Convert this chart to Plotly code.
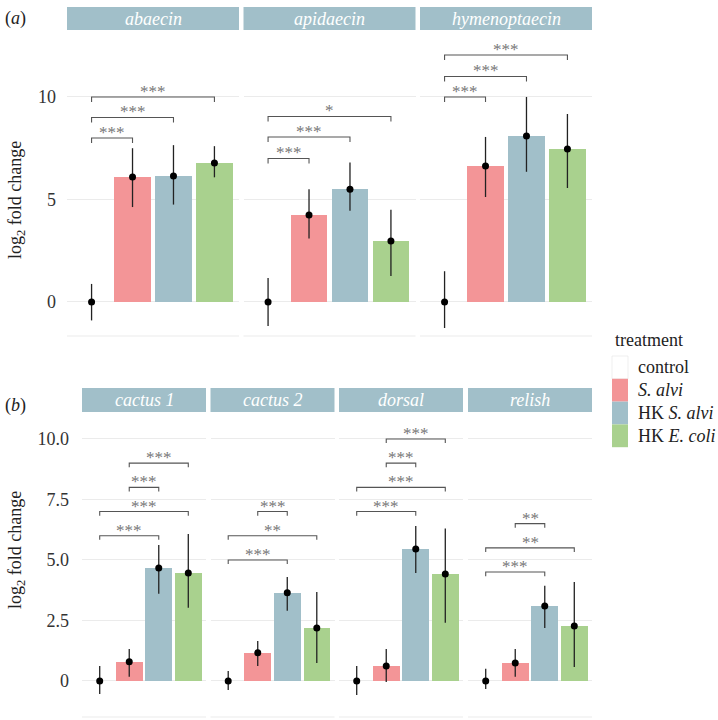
import plotly.graph_objects as go

W, H = 718, 720

# ---------------- data ----------------
treatments = ["control", "S. alvi", "HK S. alvi", "HK E. coli"]
treatment_labels = ["control", "<i>S. alvi</i>", "HK <i>S. alvi</i>", "HK <i>E. coli</i>"]
colors = ["#FFFFFF", "#F39597", "#A1BFC9", "#A9D18E"]
x_pos = [1, 2, 3, 4]

genes_a = ["abaecin", "apidaecin", "hymenoptaecin"]
genes_b = ["cactus 1", "cactus 2", "dorsal", "relish"]

mean_abaecin = [0, 6.10, 6.15, 6.78]
upper_abaecin = [0.88, 7.50, 7.65, 7.60]
lower_abaecin = [-0.90, 4.63, 4.75, 6.08]

mean_apidaecin = [0, 4.24, 5.50, 2.98]
upper_apidaecin = [1.17, 5.50, 6.80, 4.50]
lower_apidaecin = [-1.17, 3.10, 4.45, 1.27]

mean_hymenoptaecin = [0, 6.63, 8.10, 7.46]
upper_hymenoptaecin = [1.50, 8.05, 10.00, 9.17]
lower_hymenoptaecin = [-1.27, 5.12, 6.35, 5.56]

mean_cactus1 = [0, 0.79, 4.67, 4.46]
upper_cactus1 = [0.62, 1.32, 5.62, 6.07]
lower_cactus1 = [-0.54, 0.17, 3.60, 3.02]

mean_cactus2 = [0, 1.16, 3.64, 2.19]
upper_cactus2 = [0.41, 1.65, 4.30, 3.68]
lower_cactus2 = [-0.37, 0.62, 2.90, 0.74]

mean_dorsal = [0, 0.62, 5.45, 4.42]
upper_dorsal = [0.62, 1.32, 6.40, 6.30]
lower_dorsal = [-0.58, -0.04, 4.46, 2.40]

mean_relish = [0, 0.74, 3.10, 2.27]
upper_relish = [0.50, 1.32, 3.93, 4.09]
lower_relish = [-0.33, 0.17, 2.19, 0.58]

# significance brackets: (group from, group to, height, label)
sig_abaecin = [(1, 2, 8.0, "***"), (1, 3, 9.0, "***"), (1, 4, 10.0, "***")]
sig_apidaecin = [(1, 2, 7.0, "***"), (1, 3, 8.05, "***"), (1, 4, 9.05, "*")]
sig_hymenoptaecin = [(1, 2, 10.0, "***"), (1, 3, 11.0, "***"), (1, 4, 12.05, "***")]
sig_cactus1 = [(1, 3, 6.0, "***"), (1, 4, 7.0, "***"), (2, 3, 8.0, "***"), (2, 4, 9.0, "***")]
sig_cactus2 = [(1, 3, 5.0, "***"), (1, 4, 6.0, "**"), (2, 3, 7.0, "***")]
sig_dorsal = [(1, 3, 7.0, "***"), (1, 4, 8.0, "***"), (2, 3, 9.0, "***"), (2, 4, 10.0, "***")]
sig_relish = [(1, 3, 4.5, "***"), (1, 4, 5.5, "**"), (2, 3, 6.5, "**")]

ticks_a = [0, 5, 10]
ticklabels_a = ["0", "5", "10"]
ticks_b = [0, 2.5, 5, 7.5, 10]
ticklabels_b = ["0", "2.5", "5.0", "7.5", "10.0"]

# ---------------- layout geometry (pixels) ----------------
FONT = "Liberation Serif, Times New Roman, DejaVu Serif, serif"
row_a = dict(y0=33, y1=336, rng=[-1.66, 13.12], strip=(7, 30), ticks=ticks_a, ticklabels=ticklabels_a, tip=0.25, standoff=10)
row_b = dict(y0=415, y1=717, rng=[-1.49, 10.99], strip=(388, 412), ticks=ticks_b, ticklabels=ticklabels_b, tip=0.17, standoff=12)

panels = [
    ("abaecin", mean_abaecin, upper_abaecin, lower_abaecin, sig_abaecin, row_a, 67, 239, True),
    ("apidaecin", mean_apidaecin, upper_apidaecin, lower_apidaecin, sig_apidaecin, row_a, 243.5, 415.5, False),
    ("hymenoptaecin", mean_hymenoptaecin, upper_hymenoptaecin, lower_hymenoptaecin, sig_hymenoptaecin, row_a, 420, 592, False),
    ("cactus 1", mean_cactus1, upper_cactus1, lower_cactus1, sig_cactus1, row_b, 82, 206, True),
    ("cactus 2", mean_cactus2, upper_cactus2, lower_cactus2, sig_cactus2, row_b, 210.5, 334.5, False),
    ("dorsal", mean_dorsal, upper_dorsal, lower_dorsal, sig_dorsal, row_b, 339, 463, False),
    ("relish", mean_relish, upper_relish, lower_relish, sig_relish, row_b, 468, 592, False),
]

fig = go.Figure()
shapes = []
annotations = []
layout = {}

for i, (gene, mean, upper, lower, sigs, row, px0, px1, first) in enumerate(panels, start=1):
    xname = "x" if i == 1 else f"x{i}"
    yname = "y" if i == 1 else f"y{i}"
    xa = "xaxis" if i == 1 else f"xaxis{i}"
    ya = "yaxis" if i == 1 else f"yaxis{i}"
    layout[xa] = dict(domain=[px0 / W, px1 / W], range=[0.4, 4.6], showgrid=False, zeroline=False,
                      showticklabels=False, showline=False, anchor=yname, fixedrange=True)
    layout[ya] = dict(domain=[1 - row["y1"] / H, 1 - row["y0"] / H], range=row["rng"], showgrid=True,
                      gridcolor="#EBEBEB", gridwidth=1, zeroline=False, showline=False,
                      tickvals=row["ticks"], ticktext=row["ticklabels"], showticklabels=first,
                      tickfont=dict(family=FONT, size=18, color="#333333"), ticks="",
                      ticklabelstandoff=row["standoff"], anchor=xname, fixedrange=True)

    fig.add_trace(go.Bar(x=x_pos, y=mean, width=0.9, marker=dict(color=colors, line=dict(width=0)),
                         xaxis=xname, yaxis=yname, showlegend=False, hoverinfo="skip"))
    fig.add_trace(go.Scatter(x=x_pos, y=mean, mode="markers",
                             marker=dict(color="black", size=7),
                             error_y=dict(type="data", symmetric=False,
                                          array=[u - m for u, m in zip(upper, mean)],
                                          arrayminus=[m - l for m, l in zip(mean, lower)],
                                          width=0, thickness=1.3, color="#222222"),
                             xaxis=xname, yaxis=yname, showlegend=False, hoverinfo="skip"))

    # bottom panel line
    shapes.append(dict(type="line", xref=f"{xname} domain", yref=f"{yname} domain",
                       x0=0, x1=1, y0=0, y1=0, line=dict(color="#EBEBEB", width=1)))
    # strip
    s0, s1 = row["strip"]
    shapes.append(dict(type="rect", xref="paper", yref="paper", x0=px0 / W, x1=px1 / W,
                       y0=1 - s1 / H, y1=1 - s0 / H, fillcolor="#A1BFC9", line=dict(width=0), layer="below"))
    annotations.append(dict(xref="paper", yref="paper", x=(px0 + px1) / 2 / W, y=1 - (s0 + s1) / 2 / H,
                            text=f"<i>{gene}</i>", showarrow=False, xanchor="center", yanchor="middle",
                            font=dict(family=FONT, size=18, color="white")))
    # significance brackets
    tip = row["tip"]
    for g1, g2, h, lab in sigs:
        xa0, xa1 = x_pos[g1 - 1], x_pos[g2 - 1]
        shapes.append(dict(type="path", xref=xname, yref=yname,
                           path=f"M {xa0},{h - tip} L {xa0},{h} L {xa1},{h} L {xa1},{h - tip}",
                           line=dict(color="#555555", width=1.1)))
        annotations.append(dict(xref=xname, yref=yname, x=(xa0 + xa1) / 2, y=h, text=lab,
                                showarrow=False, xanchor="center", yanchor="bottom", yshift=-6,
                                font=dict(family=FONT, size=17, color="#777777")))

# y-axis titles
for yc in (200, 550):
    annotations.append(dict(xref="paper", yref="paper", x=16 / W, y=1 - yc / H,
                            text="log<sub>2</sub> fold change", textangle=-90, showarrow=False,
                            xanchor="center", yanchor="middle",
                            font=dict(family=FONT, size=18, color="#222222")))
# panel labels
annotations.append(dict(xref="paper", yref="paper", x=3 / W, y=1 - 18 / H, text="(<i>a</i>)",
                        showarrow=False, xanchor="left", yanchor="middle",
                        font=dict(family=FONT, size=18, color="#222222")))
annotations.append(dict(xref="paper", yref="paper", x=3 / W, y=1 - 405 / H, text="(<i>b</i>)",
                        showarrow=False, xanchor="left", yanchor="middle",
                        font=dict(family=FONT, size=18, color="#222222")))

# legend (manual)
annotations.append(dict(xref="paper", yref="paper", x=613 / W, y=1 - 340 / H, text="treatment",
                        showarrow=False, xanchor="left", yanchor="middle",
                        font=dict(family=FONT, size=18, color="#222222")))
leg_top = 356
leg_h = 22.8
for k, (lab, col) in enumerate(zip(treatment_labels, colors)):
    t0 = leg_top + k * leg_h
    shapes.append(dict(type="rect", xref="paper", yref="paper", x0=612 / W, x1=628 / W,
                       y0=1 - (t0 + leg_h) / H, y1=1 - t0 / H, fillcolor=col,
                       line=dict(width=0.6 if k == 0 else 0, color="#E4E4E4")))
    annotations.append(dict(xref="paper", yref="paper", x=636 / W, y=1 - (t0 + leg_h / 2) / H, text=lab,
                            showarrow=False, xanchor="left", yanchor="middle",
                            font=dict(family=FONT, size=18, color="#222222")))

fig.update_layout(width=W, height=H, margin=dict(l=0, r=0, t=0, b=0), paper_bgcolor="white",
                  plot_bgcolor="white", bargap=0, showlegend=False, shapes=shapes, annotations=annotations,
                  font=dict(family=FONT), **layout)

fig.write_html("out.html", config={"displayModeBar": False, "staticPlot": True},
               post_script="document.body.style.margin='0';document.body.style.padding='0';"
                           "document.body.style.overflow='hidden';")
